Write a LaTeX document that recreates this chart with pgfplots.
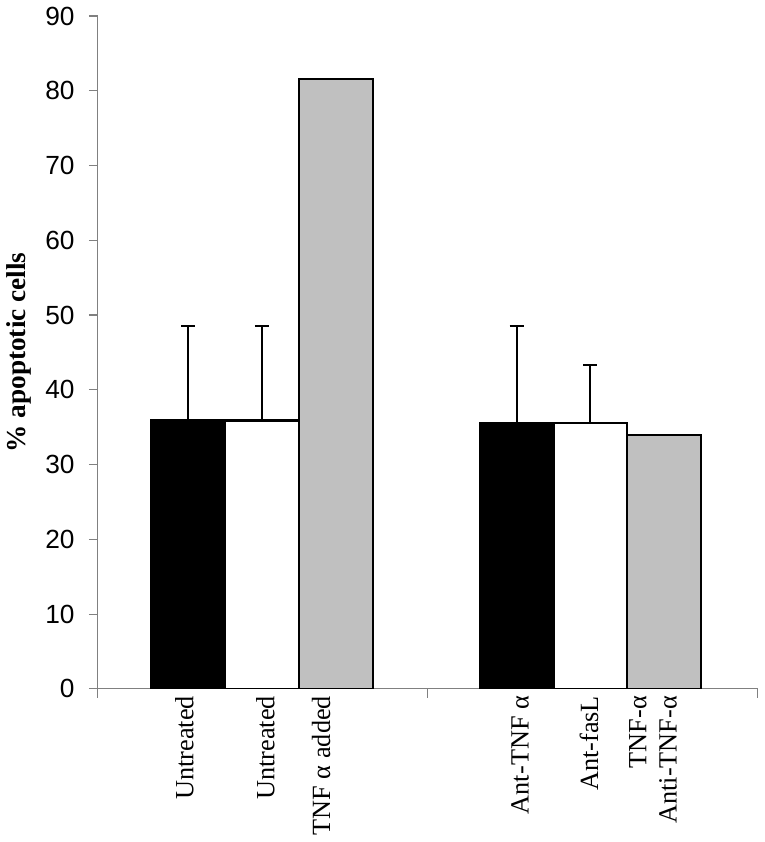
\documentclass[border=0pt]{standalone}
\usepackage{fontspec}
\setmainfont{Liberation Serif}
\newfontfamily\arialfont{Liberation Sans}
\usepackage{pgfplots}
\pgfplotsset{compat=1.18}
\definecolor{barGray}{HTML}{C0C0C0}
\definecolor{axisGray}{HTML}{808080}

\begin{document}
\begin{tikzpicture}
\begin{axis}[
  scale only axis,
  width=326.5pt, height=333pt,
  xmin=0, xmax=2, ymin=0, ymax=90,
  axis x line*=bottom, axis y line*=left,
  axis line style={-, draw=axisGray, line width=0.6pt},
  tick align=outside,
  major tick length=4.5pt,
  tick style={draw=axisGray, line width=0.6pt},
  ytick={0,10,...,90},
  /pgf/number format/assume math mode=true,
  yticklabel style={font=\arialfont\fontsize{13}{15}\selectfont, xshift=-3.5pt},
  xtick={0,1,2}, xticklabels={},
  extra x ticks={0.262,0.508,0.677,1.280,1.489,1.683},
  extra x tick labels={Untreated,Untreated,TNF α added,Ant-TNF α,Ant-fasL,{TNF-α\\Anti-TNF-α}},
  extra x tick style={major tick length=0pt,
    tick label style={rotate=90, anchor=east, align=right,
      font=\fontsize{13}{15}\selectfont}},
  ylabel={\bfseries\fontsize{13.5}{15}\selectfont \% apoptotic cells},
  ybar, bar shift=0pt, bar width=0.2236,
]
\addplot[fill=black, draw=black, line width=1pt,
  error bars/.cd, y dir=plus, y explicit,
  error bar style={line width=1pt, black},
  error mark options={rotate=90, mark size=3.5pt, line width=1pt, black}]
  coordinates {(0.2741,35.9) +- (0,12.7) (1.2695,35.5) +- (0,13.1)};
\addplot[fill=white, draw=black, line width=1pt,
  error bars/.cd, y dir=plus, y explicit,
  error bar style={line width=1pt, black},
  error mark options={rotate=90, mark size=3.5pt, line width=1pt, black}]
  coordinates {(0.4977,35.9) +- (0,12.7) (1.4931,35.5) +- (0,7.8)};
\addplot[fill=barGray, draw=black, line width=1pt]
  coordinates {(0.7213,81.6) (1.7167,34.0)};
\end{axis}
\end{tikzpicture}
\end{document}
